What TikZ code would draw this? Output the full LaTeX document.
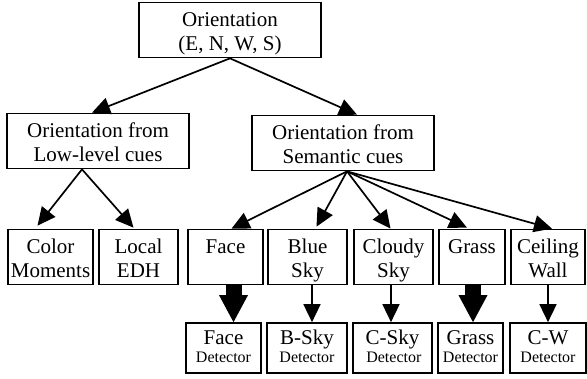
\documentclass[tikz,border=0pt]{standalone}
\usepackage{fontspec}
\setmainfont{Liberation Serif}
\usetikzlibrary{arrows.meta,calc}
\newcommand{\ltop}{\rule{0pt}{24.5pt}}
\newcommand{\lbot}{\rule[-7pt]{0pt}{7pt}}
\newcommand{\dtop}{\rule{0pt}{17pt}}
\newcommand{\detx}[1]{\\[-5.5pt]{\fontsize{16}{19}\selectfont #1}\rule[-5pt]{0pt}{5pt}}
\begin{document}
\begin{tikzpicture}[x=1pt,y=-1pt,
  box/.style={draw,line width=1.7pt,inner sep=0pt,minimum height=50pt,align=center,
    font=\fontsize{21}{23.5}\selectfont},
  arr/.style={line width=1.7pt,-{Triangle[length=18pt,width=17pt]}},
  thick arr/.style={line width=16pt,-{Triangle[length=27pt,width=29pt,line width=0pt]}}]
\useasboundingbox (0,0) rectangle (587,379);
\node[box,minimum width=182pt] (top) at (230,30) {\ltop Orientation\\(E, N, W, S)\lbot};
\node[box,minimum width=182pt] (low) at (98,141) {\ltop Orientation from\\Low-level cues\lbot};
\node[box,minimum width=182pt] (sem) at (343,143) {\ltop Orientation from\\Semantic cues\lbot};
% row 3
\node[box,minimum width=85pt] (cm) at (50.5,257) {\ltop Color\\Moments\lbot};
\node[box,minimum width=79pt] (edh) at (138.5,257) {\ltop Local\\EDH\lbot};
\node[box,minimum width=75pt] (face) at (225.5,257) {\ltop Face\\\lbot};
\node[box,minimum width=79pt] (blue) at (307.5,257) {\ltop Blue\\Sky\lbot};
\node[box,minimum width=79pt] (cloudy) at (393.5,257) {\ltop Cloudy\\Sky\lbot};
\node[box,minimum width=66pt] (grass) at (472,257) {\ltop Grass\\\lbot};
\node[box,minimum width=74pt] (ceil) at (548,257) {\ltop Ceiling\\Wall\lbot};
% row 4
\node[box,minimum width=75pt] (facedet) at (223.5,348) {\dtop Face\detx{Detector}};
\node[box,minimum width=80pt] (bskydet) at (307,348) {\dtop B-Sky\detx{Detector}};
\node[box,minimum width=79pt] (cskydet) at (392.5,348) {\dtop C-Sky\detx{\,Detector}};
\node[box,minimum width=65pt] (grassdet) at (470.5,348) {\dtop Grass\detx{Detector}};
\node[box,minimum width=76pt] (cwdet) at (548,348) {\dtop C-W\detx{Detector}};
% arrows
\draw[arr] (top.south) -- ($(low.north)+(-6,0)$);
\draw[arr] (top.south) -- ($(sem.north)+(14,0)$);
\draw[arr] ($(low.south)+(-16,0)$) -- ($(cm.north)+(-13,-3)$);
\draw[arr] ($(low.south)+(-16,0)$) -- ($(edh.north)+(-5,-1)$);
\draw[arr] ($(sem.south)+(4,0)$) -- ($(face.north)+(6,0)$);
\draw[arr] ($(sem.south)+(4,0)$) -- ($(blue.north)+(9,-2)$);
\draw[arr] ($(sem.south)+(4,0)$) -- ($(cloudy.north)+(-3,0)$);
\draw[arr] ($(sem.south)+(4,0)$) -- ($(grass.north)+(-5,-1)$);
\draw[arr] ($(sem.south)+(4,0)$) -- ($(ceil.north)+(4,0)$);
\draw[thick arr] ($(face.south)+(8,0)$) -- ($(facedet.north)+(10,0)$);
\draw[arr] ($(blue.south)+(4.5,0)$) -- ($(bskydet.north)+(5,0)$);
\draw[arr] ($(cloudy.south)+(-2.5,0)$) -- ($(cskydet.north)+(-1.5,0)$);
\draw[thick arr] ($(grass.south)+(1,0)$) -- ($(grassdet.north)+(2.5,0)$);
\draw[arr] (ceil.south) -- (cwdet.north);
\end{tikzpicture}
\end{document}
